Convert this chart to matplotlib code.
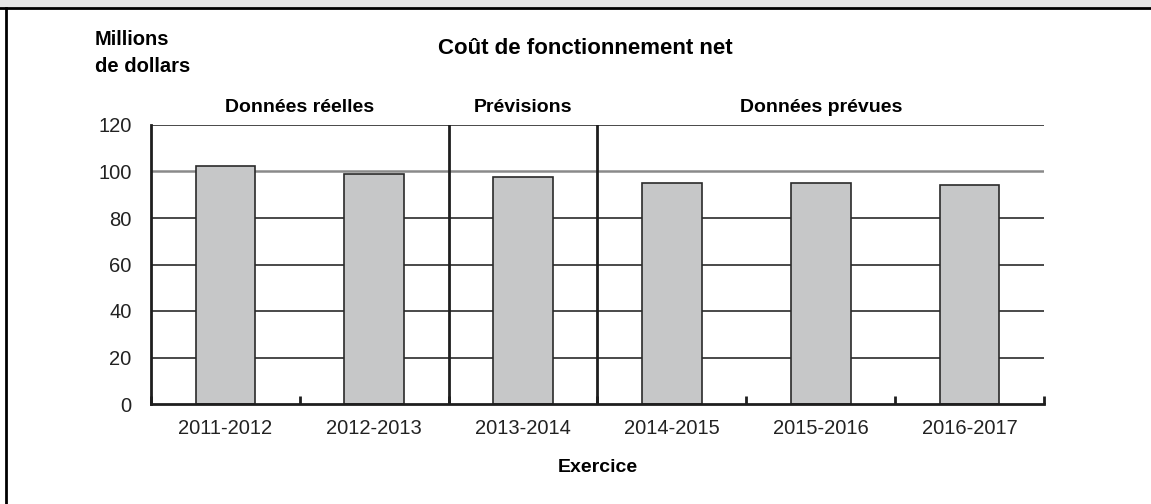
import matplotlib
matplotlib.use("Agg")
import matplotlib.pyplot as plt
from matplotlib.lines import Line2D
from matplotlib.patches import Rectangle
import numpy as np

# Données
exercices = ["2011-2012", "2012-2013", "2013-2014", "2014-2015", "2015-2016", "2016-2017"]
cout_net = [102.5, 98.8, 97.5, 95.2, 94.9, 94.2]
sections = ["Données réelles", "Prévisions", "Données prévues"]
section_bornes = [(0, 2), (2, 3), (3, 6)]  # indices de catégories
y_ticks = [0, 20, 40, 60, 80, 100, 120]

plt.rcParams['font.family'] = ['Liberation Sans', 'DejaVu Sans']

W, H = 1151, 504
fig = plt.figure(figsize=(W / 100, H / 100), dpi=100)
ax = fig.add_axes([151 / W, 1 - 404 / H, 893 / W, 279 / H])

x = np.arange(len(exercices))
ax.bar(x, cout_net, width=0.4, color="#c6c7c8", edgecolor="#2a2a2a", linewidth=1.2, zorder=3)

ax.set_xlim(-0.5, len(exercices) - 0.5)
ax.set_ylim(0, 120)

# Grille horizontale
for v in y_ticks[1:]:
    col = "#8a8a8a" if v == 100 else "#2a2a2a"
    lw = 1.8 if v == 100 else 1.2
    ax.axhline(v, color=col, linewidth=lw, zorder=1)

# Séparateurs de sections
for a, b in section_bornes[:-1]:
    ax.axvline(b - 0.5, color="#1e1e1e", linewidth=2, zorder=4)

for s in ["top", "right"]:
    ax.spines[s].set_visible(False)
for s in ["left", "bottom"]:
    ax.spines[s].set_linewidth(2)
    ax.spines[s].set_color("#1e1e1e")
    ax.spines[s].set_zorder(5)

ax.set_yticks(y_ticks)
ax.set_yticklabels([str(v) for v in y_ticks], fontsize=14.5, color="#222222")
ax.tick_params(axis="y", length=0, pad=14)

ax.set_xticks(x)
ax.set_xticklabels(exercices, fontsize=14.5, color="#222222")
ax.tick_params(axis="x", length=0, pad=11)
ax.set_xticks(np.arange(len(exercices) + 1) - 0.5, minor=True)
ax.tick_params(axis="x", which="minor", direction="in", length=6, width=2, color="#1e1e1e")

ax.set_xlabel("Exercice", fontsize=14, fontweight="bold", labelpad=15)

# Titres de sections
for lab, (a, b) in zip(sections, section_bornes):
    ax.text((a + b - 1) / 2, 124, lab, ha="center", va="bottom",
            fontsize=14, fontweight="bold")

fig.text(585 / W, 1 - 48 / H, "Coût de fonctionnement net", ha="center", va="center",
         fontsize=16, fontweight="bold")
fig.text(95 / W, 1 - 40 / H, "Millions", ha="left", va="center", fontsize=14.5, fontweight="bold")
fig.text(95 / W, 1 - 67 / H, "de dollars", ha="left", va="center", fontsize=14.5, fontweight="bold")

# Cadre
fig.add_artist(Rectangle((0, 1 - 7 / H), 1, 7 / H, transform=fig.transFigure,
                         facecolor="#e6e6e6", edgecolor="none"))
fig.add_artist(Line2D([0, 1], [1 - 7.5 / H, 1 - 7.5 / H], transform=fig.transFigure,
                      color="black", linewidth=2))
fig.add_artist(Line2D([5.5 / W, 5.5 / W], [0, 1 - 7.5 / H], transform=fig.transFigure,
                      color="black", linewidth=2))

fig.savefig("out.png", dpi=100)
